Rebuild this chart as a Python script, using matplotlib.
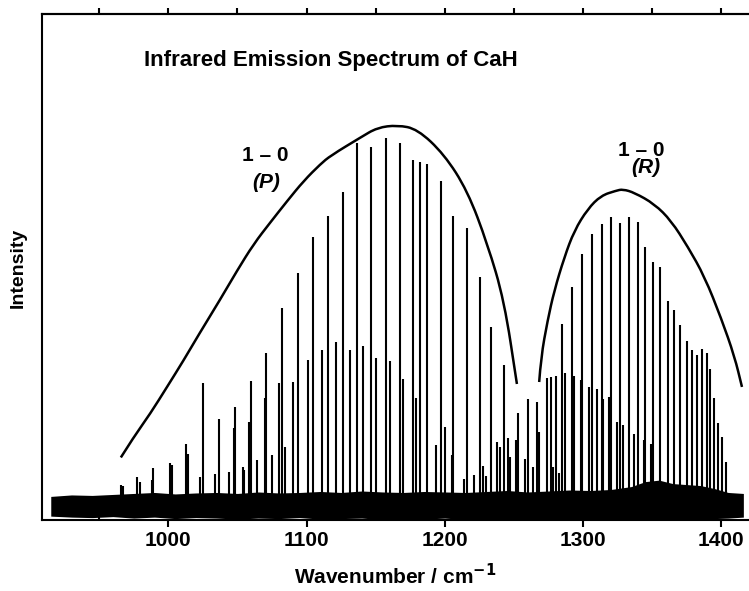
import matplotlib
matplotlib.use("Agg")
import matplotlib.pyplot as plt
from matplotlib.ticker import MultipleLocator, NullLocator
from matplotlib.path import Path
from matplotlib.patches import PathPatch

plt.rcParams['font.family'] = ['Liberation Sans', 'DejaVu Sans']
plt.rcParams['font.weight'] = 'bold'

# rotational lines: wavenumber (cm-1) and peak height (arbitrary units)
line_pos = [965.7, 967.6, 977.3, 979.2, 988.4, 989.3, 1001.4, 1002.4, 1013.0, 1014.0,
            1023.2, 1025.1, 1033.8, 1036.4, 1044.0, 1047.3, 1048.3, 1054.1, 1055.1, 1058.5,
            1060.1, 1064.5, 1069.8, 1071.0, 1074.9, 1079.9, 1082.4, 1084.8, 1090.4, 1093.7,
            1100.9, 1104.6, 1111.1, 1115.4, 1121.0, 1126.1, 1131.2, 1136.7, 1141.1, 1146.9,
            1150.5, 1157.2, 1160.1, 1167.4, 1169.6, 1177.3, 1179.0, 1182.1, 1187.5, 1193.5,
            1197.1, 1200.2, 1204.9, 1206.3, 1214.0, 1215.9, 1221.2, 1225.4, 1227.8, 1229.7,
            1233.8, 1237.7, 1239.6, 1243.0, 1245.4, 1246.9, 1251.7, 1252.9, 1258.0, 1260.1,
            1263.6, 1266.4, 1268.3, 1273.9, 1276.8, 1278.5, 1280.4, 1282.4, 1284.6, 1287.0,
            1292.0, 1293.3, 1298.6, 1299.1, 1304.6, 1306.3, 1310.1, 1313.6, 1314.7, 1319.1,
            1320.5, 1324.6, 1327.0, 1329.2, 1333.1, 1336.7, 1339.6, 1344.0, 1345.1, 1349.3,
            1350.9, 1356.0, 1361.4, 1365.7, 1370.5, 1374.9, 1379.0, 1382.8, 1386.0, 1389.6,
            1392.2, 1394.9, 1397.8, 1400.2, 1403.4]
line_int = [4.6, 4.3, 6.1, 5.1, 5.5, 7.9, 8.9, 8.5, 12.8, 10.9,
            6.1, 25.2, 6.7, 18.0, 7.1, 16.0, 20.4, 8.2, 7.5, 17.3,
            25.7, 9.5, 22.1, 31.2, 10.5, 25.1, 40.5, 12.2, 25.4, 47.6,
            29.8, 54.9, 31.8, 59.1, 33.5, 64.0, 31.8, 73.8, 32.7, 73.1,
            30.2, 74.8, 29.6, 73.9, 26.1, 70.4, 22.1, 70.0, 69.6, 12.6,
            66.2, 16.3, 10.5, 59.1, 5.7, 56.6, 6.5, 46.6, 8.4, 6.3,
            36.5, 13.2, 12.3, 28.9, 14.1, 10.2, 13.6, 19.1, 9.7, 22.0,
            8.2, 21.3, 15.2, 26.2, 26.4, 8.1, 26.7, 6.9, 37.2, 27.2,
            44.7, 26.7, 25.9, 51.4, 24.4, 55.4, 23.9, 57.4, 21.9, 22.3,
            58.9, 17.3, 57.6, 16.6, 58.8, 14.8, 57.8, 13.6, 52.7, 12.9,
            49.8, 48.8, 41.9, 40.0, 37.0, 33.8, 31.9, 30.8, 32.0, 31.2,
            28.1, 22.2, 17.1, 14.2, 9.2]

# baseline noise band (upper / lower edge)
band_x = [915, 930, 945, 960, 975, 990, 1005, 1020, 1035, 1050, 1065, 1080, 1095,
          1110, 1125, 1140, 1155, 1170, 1185, 1200, 1215, 1230, 1245, 1260, 1275,
          1290, 1305, 1320, 1335, 1345, 1355, 1365, 1375, 1385, 1395, 1405, 1416]
band_hi = [2.2, 2.5, 2.4, 2.6, 2.8, 3.0, 2.7, 2.9, 3.0, 2.8, 3.1, 2.9, 3.0,
           3.2, 3.0, 3.3, 3.1, 3.0, 3.2, 3.1, 3.0, 3.2, 3.4, 3.1, 3.3,
           3.5, 3.4, 3.6, 4.2, 5.2, 5.5, 4.8, 4.6, 4.4, 3.8, 3.0, 2.8]
band_lo = [-1.8, -2.0, -2.1, -1.9, -2.2, -2.0, -2.3, -2.1, -2.2, -2.4, -2.2, -2.3, -2.1,
           -2.4, -2.3, -2.2, -2.5, -2.3, -2.4, -2.2, -2.5, -2.3, -2.4, -2.6, -2.4,
           -2.5, -2.3, -2.6, -2.4, -2.5, -2.3, -2.4, -2.6, -2.4, -2.3, -2.2, -2.0]

# hand-drawn branch envelopes
p_env_x = [965.7, 974.9, 987.0, 999.1, 1011.1, 1022.0, 1037.7, 1049.8, 1061.8, 1073.9,
           1086.0, 1098.0, 1110.1, 1117.4, 1139.1, 1151.2, 1165.7, 1180.2, 1199.5,
           1216.4, 1230.9, 1243.0, 1252.2]
p_env_y = [10.1, 14.2, 19.0, 24.4, 29.8, 35.0, 42.2, 48.0, 53.4, 57.8,
           62.1, 66.2, 69.6, 71.3, 75.0, 77.0, 77.5, 76.7, 71.6,
           64.2, 53.4, 41.9, 25.0]
r_env_x = [1268.3, 1269.6, 1274.4, 1279.2, 1286.5, 1293.7, 1303.4, 1313.0, 1323.9,
           1328.8, 1337.2, 1351.7, 1363.8, 1375.9, 1387.9, 1400.0, 1409.6, 1415.0]
r_env_y = [25.4, 30.4, 37.9, 43.9, 50.7, 56.1, 60.5, 63.2, 64.2,
           64.5, 63.8, 61.5, 58.1, 52.8, 46.8, 38.3, 30.6, 24.4]


def envelope_patch(xs, ys):
    # quadratic bezier through the read points so the pen stroke looks smooth
    verts = [(xs[0], ys[0])]
    codes = [Path.MOVETO]
    for i in range(1, len(xs) - 1):
        verts += [(xs[i], ys[i]), ((xs[i] + xs[i + 1]) / 2, (ys[i] + ys[i + 1]) / 2)]
        codes += [Path.CURVE3, Path.CURVE3]
    verts.append((xs[-1], ys[-1]))
    codes.append(Path.LINETO)
    return PathPatch(Path(verts, codes), facecolor='none', edgecolor='black', lw=1.8,
                     capstyle='butt')


fig = plt.figure(figsize=(7.49, 5.91), dpi=100)
ax = fig.add_axes([0.0567, 0.120, 0.945, 0.856])

ax.fill_between(band_x, band_lo, band_hi, color='black', lw=0)
ax.vlines(line_pos, 0, line_int, color='black', lw=1.5)
ax.add_patch(envelope_patch(p_env_x, p_env_y))
ax.add_patch(envelope_patch(r_env_x, r_env_y))

ax.set_xlim(909, 1421)
ax.set_ylim(-2.6, 100)

ax.xaxis.set_major_locator(MultipleLocator(100))
ax.xaxis.set_minor_locator(MultipleLocator(50))
ax.yaxis.set_major_locator(NullLocator())
ax.tick_params(axis='x', which='major', direction='out', length=5, width=1.5,
               labelsize=15, pad=3)
ax.tick_params(axis='x', which='minor', direction='in', length=5, width=1.5)

top = ax.secondary_xaxis('top')
top.xaxis.set_major_locator(MultipleLocator(100))
top.xaxis.set_minor_locator(MultipleLocator(50))
top.tick_params(which='both', direction='out', length=4, width=1.5, labeltop=False)
top.spines['top'].set_linewidth(1.5)

for s in ['left', 'bottom', 'top']:
    ax.spines[s].set_linewidth(1.5)
ax.spines['right'].set_visible(False)

ax.set_xlabel('Wavenumber / cm$^{\\mathbf{-1}}$', fontsize=15, fontweight='bold')
ax.xaxis.set_label_coords(0.499, -0.085)
ax.set_ylabel('Intensity', fontsize=14, fontweight='bold')
ax.yaxis.set_label_coords(-0.022, 0.498)

ax.text(0.407, 0.909, 'Infrared Emission Spectrum of CaH', transform=ax.transAxes,
        ha='center', va='center', fontsize=16, fontweight='bold')
ax.text(0.315, 0.721, '1 \u2013 0', transform=ax.transAxes, ha='center', va='center',
        fontsize=15, fontweight='bold')
ax.text(0.316, 0.668, '(P)', transform=ax.transAxes, ha='center', va='center',
        fontsize=15, fontweight='bold', style='italic')
ax.text(0.846, 0.731, '1 \u2013 0', transform=ax.transAxes, ha='center', va='center',
        fontsize=15, fontweight='bold')
ax.text(0.853, 0.696, '(R)', transform=ax.transAxes, ha='center', va='center',
        fontsize=15, fontweight='bold', style='italic')

fig.savefig('out.png', dpi=100)
